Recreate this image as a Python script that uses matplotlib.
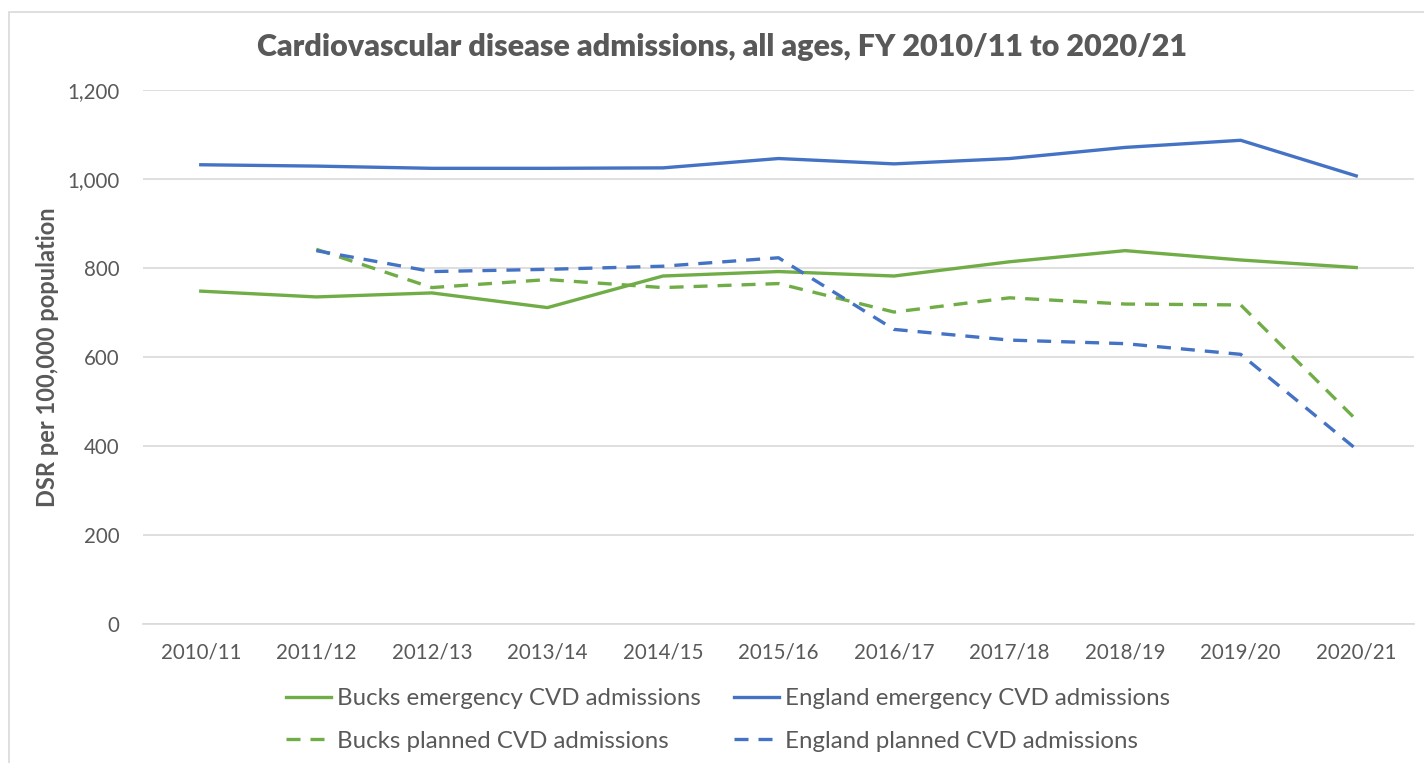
import matplotlib
matplotlib.use("Agg")
import matplotlib.pyplot as plt
from matplotlib.patches import Rectangle

years = ["2010/11", "2011/12", "2012/13", "2013/14", "2014/15", "2015/16",
         "2016/17", "2017/18", "2018/19", "2019/20", "2020/21"]
bucks_emergency = [748, 735, 744, 711, 782, 792, 782, 814, 839, 818, 801]
england_emergency = [1032, 1029, 1024, 1024, 1025, 1046, 1034, 1046, 1071, 1087, 1007]
bucks_planned = [None, 842, 756, 774, 756, 765, 701, 733, 719, 717, 459]
england_planned = [None, 839, 792, 797, 804, 823, 662, 638, 630, 606, 393]
yticks = [0, 200, 400, 600, 800, 1000, 1200]

plt.rcParams['font.family'] = ['Lato', 'DejaVu Sans']
GREEN = "#70AD47"
BLUE = "#4472C4"
TXT = "#595959"
GRID = "#D9D9D9"

fig = plt.figure(figsize=(14.24, 7.63), dpi=100)
ax = fig.add_axes([143/1424, 1-624/763, (1414-143)/1424, (624-90)/763])

x = list(range(len(years)))
def xy(vals):
    xs = [i for i, v in zip(x, vals) if v is not None]
    ys = [v for v in vals if v is not None]
    return xs, ys

lw = 2.4
dash = (0, (4.2, 3.0))
l1, = ax.plot(*xy(bucks_emergency), color=GREEN, lw=lw, solid_joinstyle='round', label="Bucks emergency CVD admissions")
l2, = ax.plot(*xy(england_emergency), color=BLUE, lw=lw, solid_joinstyle='round', label="England emergency CVD admissions")
l3, = ax.plot(*xy(bucks_planned), color=GREEN, lw=lw, linestyle=dash, label="Bucks planned CVD admissions")
l4, = ax.plot(*xy(england_planned), color=BLUE, lw=lw, linestyle=dash, label="England planned CVD admissions")

ax.set_xlim(-0.5, len(years) - 0.5)
ax.set_ylim(0, 1200)
ax.set_yticks(yticks)
ax.set_yticklabels([f"{v:,}" for v in yticks])
ax.set_xticks(x)
ax.set_xticklabels(years)
ax.tick_params(axis='both', length=0, labelsize=14.8, colors=TXT)
ax.tick_params(axis='y', pad=17)
ax.tick_params(axis='x', pad=13)
ax.grid(axis='y', color=GRID, lw=1.2)
ax.set_axisbelow(True)
for s in ['top', 'right', 'left']:
    ax.spines[s].set_visible(False)
ax.spines['bottom'].set_color(GRID)
ax.spines['bottom'].set_linewidth(1.2)

ax.set_ylabel("DSR per 100,000 population", fontsize=17, fontweight='bold', color=TXT)
ax.yaxis.set_label_coords(-84/1271, 0.5)

fig.text(722/1424, 1-47/763, "Cardiovascular disease admissions, all ages, FY 2010/11 to 2020/21",
         ha='center', va='center', fontsize=22, fontweight='heavy', color=TXT)

leg = fig.legend(handles=[l1, l3, l2, l4], ncol=2, loc='center',
                 bbox_to_anchor=(728/1424, 1-720/763), frameon=False,
                 fontsize=17.3, labelcolor=TXT, handlelength=1.85, handletextpad=0.25,
                 columnspacing=1.4, labelspacing=0.9)

fig.patches.append(Rectangle((9/1424, -0.02), 1.02, 1-12/763+0.02, transform=fig.transFigure,
                             fill=False, edgecolor=GRID, lw=1.2))

fig.savefig("out.png", dpi=100, facecolor='white')
